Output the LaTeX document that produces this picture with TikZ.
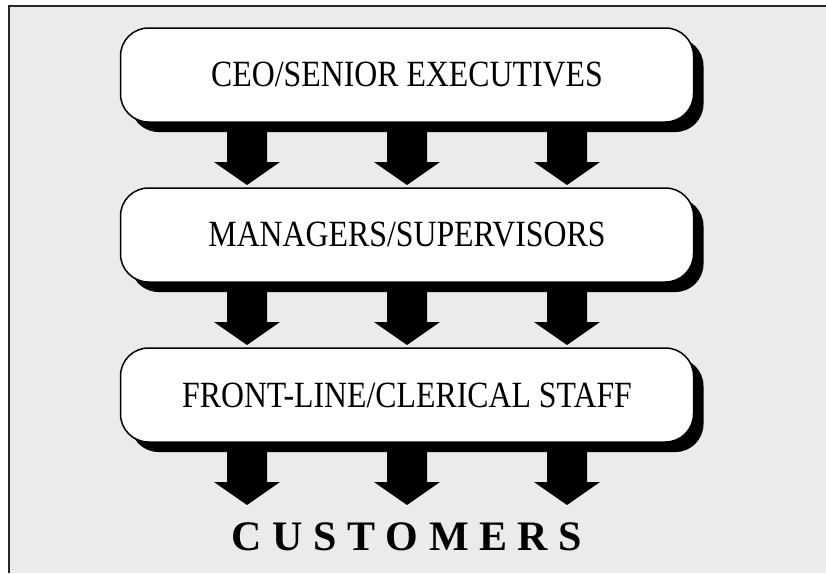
\documentclass[tikz,border=0pt]{standalone}
\usepackage{fontspec}
\setmainfont{Liberation Serif}
\newfontfamily\levelfont[FakeStretch=0.86]{Liberation Serif}
\usetikzlibrary{positioning,shadows}

\definecolor{paper}{HTML}{EBEBEB}

\tikzset{
	chartpicture/.style = {
		x = 1pt,
		y = 1pt,
		node distance = 66pt,
	},
	levelbox/.style = {
		draw = black,
		line width = 1.5pt,
		fill = white,
		outer sep = 0pt,
		rounded corners = 28pt,
		minimum width = 573pt,
		minimum height = 94pt,
		font = \levelfont\fontsize{37}{44}\selectfont,
		drop shadow = {shadow xshift = 10pt, shadow yshift = -10pt, fill = black, opacity = 1}
	},
	audience/.style = {
		font = \fontsize{42}{48}\selectfont\bfseries,
		inner sep = 0pt
	}
}

% block arrow from the bottom of #1 down to the point #2, shifted by #3
\newcommand{\flowarrow}[3]{%
	\fill ([xshift=#3-20pt]#1.south) |- ([xshift=#3-20pt, yshift=26pt]#2)
		-- ([xshift=#3-33pt, yshift=26pt]#2)
		-- ([xshift=#3, yshift=3pt]#2)
		-- ([xshift=#3+33pt, yshift=26pt]#2)
		-- ([xshift=#3+20pt, yshift=26pt]#2)
		-- ([xshift=#3+20pt]#1.south) -- cycle;%
}

\begin{document}
\begin{tikzpicture}[chartpicture]
	\useasboundingbox (0,0) rectangle (826,-573);
	\fill[paper] (9,-6) rectangle (826,-573);
	\draw[line width = 1.5pt, black!85] (9,-573) -- (9,-6) -- (826,-6);

	\node[levelbox] (ceo) at (407,-75) {CEO/SENIOR EXECUTIVES};
	\node[levelbox, below = of ceo] (mgr) {MANAGERS/SUPERVISORS};
	\node[levelbox, below = of mgr] (staff) {FRONT-LINE/CLERICAL STAFF};

	\node[audience, anchor = base] (cust) at ([yshift=-108pt]staff.south) {C U S T O M E R S};
	\coordinate (custin) at ([yshift=42pt]cust.base);

	\flowarrow{ceo}{mgr.north}{-160pt}
	\flowarrow{ceo}{mgr.north}{0pt}
	\flowarrow{ceo}{mgr.north}{160pt}

	\flowarrow{mgr}{staff.north}{-160pt}
	\flowarrow{mgr}{staff.north}{0pt}
	\flowarrow{mgr}{staff.north}{160pt}

	\flowarrow{staff}{custin}{-160pt}
	\flowarrow{staff}{custin}{0pt}
	\flowarrow{staff}{custin}{160pt}
\end{tikzpicture}
\end{document}
